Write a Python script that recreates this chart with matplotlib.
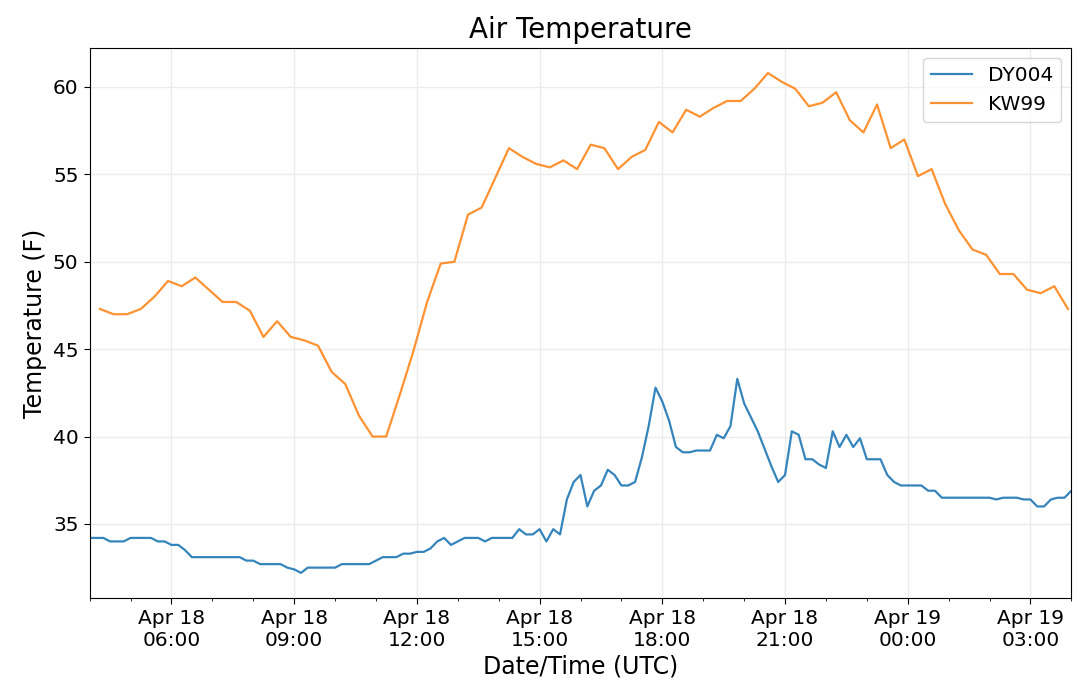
import matplotlib
matplotlib.use("Agg")
import matplotlib.pyplot as plt
import matplotlib.dates as mdates
import pandas as pd

# ---- data ----
dy004_start = "2019-04-18 04:00"
dy004_freq = "10min"
dy004_values = [
    34.2, 34.2, 34.2, 34.0, 34.0, 34.0, 34.2, 34.2, 34.2, 34.2,
    34.0, 34.0, 33.8, 33.8, 33.5, 33.1, 33.1, 33.1, 33.1, 33.1,
    33.1, 33.1, 33.1, 32.9, 32.9, 32.7, 32.7, 32.7, 32.7, 32.5,
    32.4, 32.2, 32.5, 32.5, 32.5, 32.5, 32.5, 32.7, 32.7, 32.7,
    32.7, 32.7, 32.9, 33.1, 33.1, 33.1, 33.3, 33.3, 33.4, 33.4,
    33.6, 34.0, 34.2, 33.8, 34.0, 34.2, 34.2, 34.2, 34.0, 34.2,
    34.2, 34.2, 34.2, 34.7, 34.4, 34.4, 34.7, 34.0, 34.7, 34.4,
    36.4, 37.4, 37.8, 36.0, 36.9, 37.2, 38.1, 37.8, 37.2, 37.2,
    37.4, 38.8, 40.6, 42.8, 42.0, 40.9, 39.4, 39.1, 39.1, 39.2,
    39.2, 39.2, 40.1, 39.9, 40.6, 43.3, 41.9, 41.1, 40.3, 39.3,
    38.3, 37.4, 37.8, 40.3, 40.1, 38.7, 38.7, 38.4, 38.2, 40.3,
    39.4, 40.1, 39.4, 39.9, 38.7, 38.7, 38.7, 37.8, 37.4, 37.2,
    37.2, 37.2, 37.2, 36.9, 36.9, 36.5, 36.5, 36.5, 36.5, 36.5,
    36.5, 36.5, 36.5, 36.4, 36.5, 36.5, 36.5, 36.4, 36.4, 36.0,
    36.0, 36.4, 36.5, 36.5, 36.9,
]

kw99_start = "2019-04-18 04:15"
kw99_freq = "20min"
kw99_values = [
    47.3, 47.0, 47.0, 47.3, 48.0, 48.9, 48.6, 49.1, 48.4, 47.7,
    47.7, 47.2, 45.7, 46.6, 45.7, 45.5, 45.2, 43.7, 43.0, 41.2,
    40.0, 40.0, 42.4, 44.9, 47.7, 49.9, 50.0, 52.7, 53.1, 54.8,
    56.5, 56.0, 55.6, 55.4, 55.8, 55.3, 56.7, 56.5, 55.3, 56.0,
    56.4, 58.0, 57.4, 58.7, 58.3, 58.8, 59.2, 59.2, 59.9, 60.8,
    60.3, 59.9, 58.9, 59.1, 59.7, 58.1, 57.4, 59.0, 56.5, 57.0,
    54.9, 55.3, 53.3, 51.8, 50.7, 50.4, 49.3, 49.3, 48.4, 48.2,
    48.6, 47.3,
]

series_names = ["DY004", "KW99"]
title_text = "Air Temperature"
xlabel_text = "Date/Time (UTC)"
ylabel_text = "Temperature (F)"

dy004_times = pd.date_range(dy004_start, periods=len(dy004_values), freq=dy004_freq)
kw99_times = pd.date_range(kw99_start, periods=len(kw99_values), freq=kw99_freq)

# ---- plot ----
fig = plt.figure(figsize=(10.8, 6.96), dpi=100)
ax = fig.add_axes([0.083, 0.141, 0.909, 0.790])

ax.plot(dy004_times, dy004_values, color="#1f77b4", lw=1.6, alpha=0.9,
        label=series_names[0])
ax.plot(kw99_times, kw99_values, color="#ff7f0e", lw=1.6, alpha=0.85,
        label=series_names[1])

ax.set_xlim(dy004_times[0], dy004_times[-1])
ax.xaxis.set_major_locator(mdates.HourLocator(byhour=range(0, 24, 3)))
ax.xaxis.set_minor_locator(mdates.HourLocator())
ax.xaxis.set_major_formatter(mdates.DateFormatter("%b %d\n%H:%M"))
for lbl in ax.get_xticklabels():
    lbl.set_ha("center")

ax.grid(True, which="major", color="#ebebeb", lw=1.0)
ax.set_axisbelow(True)

ax.tick_params(axis="both", which="major", labelsize=14.5, length=4.5)
ax.tick_params(axis="x", which="minor", length=2.5)

ax.set_title(title_text, fontsize=20, pad=7)
ax.set_xlabel(xlabel_text, fontsize=17, labelpad=3)
ax.set_ylabel(ylabel_text, fontsize=17)

ax.legend(loc="upper right", fontsize=14.5)

fig.savefig("out.png", dpi=100)
